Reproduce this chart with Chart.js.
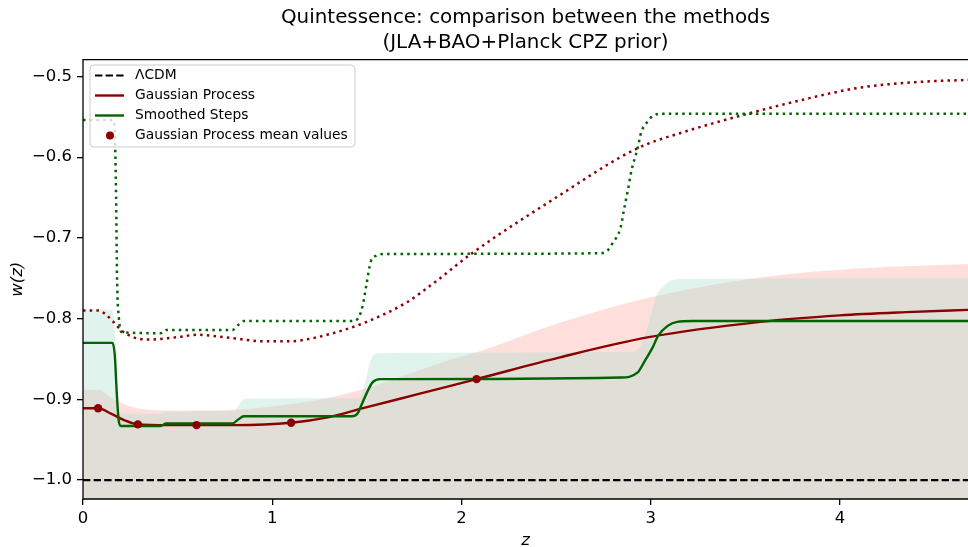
<!DOCTYPE html>
<html lang="en">
<head>
  <meta charset="UTF-8">
  <title>Quintessence: comparison between the methods</title>
  <script src="https://cdn.jsdelivr.net/npm/chart.js"></script>
  <style>
    html, body {
      margin: 0;
      padding: 0;
      background: #fff;
    }
    canvas {
      display: block;
    }
  </style>
</head>
<body>
  <canvas id="wzChart" width="968" height="547"></canvas>

  <script>
    // values (z, w(z))
    const lcdmZ = [0, 4.7];
    const lcdmW = [-1, -1];

    const gpZ = [0, 0.08, 0.15, 0.22, 0.29, 0.45, 0.6, 0.8, 1.1, 1.3, 1.48, 1.78, 2.08, 2.52, 2.99, 3.58, 4.0, 4.35, 4.7];
    const gpW = [-0.911, -0.911, -0.918, -0.926, -0.931, -0.932, -0.932, -0.932, -0.929, -0.922, -0.911, -0.893, -0.875, -0.848, -0.823, -0.804, -0.796, -0.792, -0.789];

    const meanZ = [0.08, 0.29, 0.6, 1.1, 2.08];
    const meanW = [-0.911, -0.931, -0.932, -0.929, -0.875];

    const ssZ = [0, 0.155, 0.168, 0.178, 0.188, 0.2, 0.41, 0.44, 0.79, 0.82, 0.85, 1.42, 1.45, 1.47, 1.5, 1.53, 1.57, 1.62, 2.84, 2.93, 2.97, 3.01, 3.04, 3.09, 3.14, 3.22, 4.7];
    const ssW = [-0.830, -0.830, -0.845, -0.89, -0.925, -0.933, -0.933, -0.930, -0.930, -0.925, -0.921, -0.921, -0.918, -0.908, -0.892, -0.879, -0.875, -0.875, -0.873, -0.867, -0.852, -0.836, -0.821, -0.809, -0.804, -0.803, -0.803];

    // dotted curves
    const gpDotZ = [0, 0.08, 0.11, 0.16, 0.205, 0.266, 0.34, 0.5, 0.6, 0.78, 0.95, 1.1, 1.2, 1.29, 1.38, 1.5, 1.71, 1.87, 2.05, 2.5, 2.93, 3.2, 3.5, 3.8, 4.1, 4.4, 4.7];
    const gpDotW = [-0.790, -0.790, -0.793, -0.804, -0.815, -0.823, -0.826, -0.823, -0.820, -0.824, -0.828, -0.828, -0.825, -0.820, -0.814, -0.804, -0.780, -0.753, -0.720, -0.650, -0.589, -0.567, -0.547, -0.529, -0.514, -0.507, -0.504];

    const ssDotZ = [0, 0.16, 0.168, 0.175, 0.18, 0.19, 0.205, 0.41, 0.44, 0.79, 0.82, 0.85, 1.43, 1.46, 1.48, 1.5, 1.52, 1.55, 1.6, 2.73, 2.77, 2.8, 2.84, 2.86, 2.88, 2.9, 2.93, 2.95, 2.98, 3.01, 3.06, 4.7];
    const ssDotW = [-0.554, -0.554, -0.57, -0.65, -0.75, -0.80, -0.817, -0.818, -0.814, -0.814, -0.808, -0.803, -0.803, -0.797, -0.782, -0.755, -0.73, -0.722, -0.720, -0.719, -0.716, -0.706, -0.688, -0.664, -0.640, -0.615, -0.590, -0.569, -0.557, -0.549, -0.546, -0.546];

    // upper edges of the shaded bands (they run off the bottom)
    const gpBandZ = [0, 0.08, 0.15, 0.25, 0.35, 0.5, 0.8, 1.0, 1.3, 1.5, 1.94, 2.1, 2.52, 3.03, 3.58, 4.1, 4.7];
    const gpBandW = [-0.888, -0.888, -0.898, -0.909, -0.913, -0.914, -0.913, -0.909, -0.898, -0.886, -0.851, -0.840, -0.805, -0.772, -0.749, -0.738, -0.732];

    const ssBandZ = [0, 0.15, 0.165, 0.175, 0.19, 0.21, 0.41, 0.44, 0.8, 0.83, 0.86, 1.46, 1.49, 1.52, 1.56, 2.9, 2.95, 2.99, 3.03, 3.08, 3.15, 4.7];
    const ssBandW = [-0.789, -0.789, -0.80, -0.87, -0.912, -0.918, -0.918, -0.915, -0.914, -0.905, -0.899, -0.898, -0.88, -0.852, -0.843, -0.841, -0.832, -0.805, -0.772, -0.757, -0.751, -0.750];

    const xTicks = [0, 1, 2, 3, 4];
    const yTicks = [-1.0, -0.9, -0.8, -0.7, -0.6, -0.5];

    const darkRed = '#8b0000';
    const darkGreen = '#006400';
    const font = 'DejaVu Sans';

    function pts(zs, ws) {
      return zs.map((z, i) => ({ x: z, y: ws[i] }));
    }

    const legendItems = [
      { label: 'ΛCDM', kind: 'dash', color: '#000' },
      { label: 'Gaussian Process', kind: 'line', color: darkRed },
      { label: 'Smoothed Steps', kind: 'line', color: darkGreen },
      { label: 'Gaussian Process mean values', kind: 'dot', color: darkRed }
    ];

    // axes frame + legend box, drawn on top like matplotlib does
    const framePlugin = {
      id: 'frame',
      afterDatasetsDraw(chart) {
        const { ctx, chartArea: a } = chart;
        ctx.save();
        ctx.strokeStyle = '#000';
        ctx.lineWidth = 1.3;
        ctx.beginPath();
        ctx.moveTo(a.right + 2, a.top);
        ctx.lineTo(a.left, a.top);
        ctx.lineTo(a.left, a.bottom);
        ctx.lineTo(a.right + 2, a.bottom);
        ctx.stroke();

        // legend
        const bx = 90, by = 65, bw = 265, bh = 82, r = 4;
        ctx.beginPath();
        ctx.moveTo(bx + r, by);
        ctx.arcTo(bx + bw, by, bx + bw, by + bh, r);
        ctx.arcTo(bx + bw, by + bh, bx, by + bh, r);
        ctx.arcTo(bx, by + bh, bx, by, r);
        ctx.arcTo(bx, by, bx + bw, by, r);
        ctx.closePath();
        ctx.fillStyle = 'rgba(255,255,255,0.8)';
        ctx.fill();
        ctx.strokeStyle = '#cccccc';
        ctx.lineWidth = 1;
        ctx.stroke();

        ctx.font = '13.8px "' + font + '"';
        ctx.textBaseline = 'middle';
        legendItems.forEach((it, i) => {
          const y = 75.5 + i * 20;
          ctx.strokeStyle = it.color;
          ctx.fillStyle = it.color;
          if (it.kind === 'dot') {
            ctx.beginPath();
            ctx.arc(110, y, 4, 0, Math.PI * 2);
            ctx.fill();
          } else {
            ctx.lineWidth = it.kind === 'dash' ? 2.2 : 2.4;
            ctx.setLineDash(it.kind === 'dash' ? [7.4, 3.2] : []);
            ctx.beginPath();
            ctx.moveTo(95, y);
            ctx.lineTo(124, y);
            ctx.stroke();
            ctx.setLineDash([]);
          }
          ctx.fillStyle = '#000';
          ctx.fillText(it.label, 135, y);
        });
        ctx.restore();
      }
    };

    const lineBase = {
      pointRadius: 0,
      cubicInterpolationMode: 'monotone',
      fill: false
    };

    const ctx = document.getElementById('wzChart').getContext('2d');

    new Chart(ctx, {
      type: 'line',
      data: {
        datasets: [
          {
            ...lineBase,
            label: 'GP band',
            data: pts(gpBandZ, gpBandW),
            borderWidth: 0,
            borderColor: 'rgba(0,0,0,0)',
            backgroundColor: 'rgba(250,128,114,0.25)',
            fill: 'start',
            order: 10
          },
          {
            ...lineBase,
            label: 'Steps band',
            data: pts(ssBandZ, ssBandW),
            borderWidth: 0,
            borderColor: 'rgba(0,0,0,0)',
            backgroundColor: 'rgba(172,223,207,0.375)',
            fill: 'start',
            order: 9
          },
          {
            ...lineBase,
            label: 'ΛCDM',
            data: pts(lcdmZ, lcdmW),
            borderColor: '#000',
            borderWidth: 2.2,
            borderDash: [7.4, 3.2],
            order: 5
          },
          {
            ...lineBase,
            label: 'GP dotted',
            data: pts(gpDotZ, gpDotW),
            borderColor: darkRed,
            borderWidth: 2.5,
            borderDash: [2.5, 4.2],
            order: 4
          },
          {
            ...lineBase,
            label: 'Steps dotted',
            data: pts(ssDotZ, ssDotW),
            borderColor: darkGreen,
            borderWidth: 2.5,
            borderDash: [2.5, 4.2],
            order: 3
          },
          {
            ...lineBase,
            label: 'Gaussian Process',
            data: pts(gpZ, gpW),
            borderColor: darkRed,
            borderWidth: 2.4,
            order: 2
          },
          {
            ...lineBase,
            label: 'Smoothed Steps',
            data: pts(ssZ, ssW),
            borderColor: darkGreen,
            borderWidth: 2.4,
            order: 1
          },
          {
            label: 'Gaussian Process mean values',
            data: pts(meanZ, meanW),
            showLine: false,
            pointRadius: 4.2,
            pointBackgroundColor: darkRed,
            pointBorderWidth: 0,
            borderColor: darkRed,
            order: 0
          }
        ]
      },
      options: {
        responsive: false,
        animation: false,
        layout: { padding: 0, autoPadding: false },
        plugins: {
          legend: { display: false },
          tooltip: { enabled: false },
          title: {
            display: true,
            fullSize: false,
            text: ['Quintessence: comparison between the methods', '(JLA+BAO+Planck CPZ prior)'],
            color: '#000',
            font: { family: font, size: 19.9, weight: 'normal', lineHeight: 1.22 },
            padding: { top: 6, bottom: 5 }
          }
        },
        scales: {
          x: {
            type: 'linear',
            min: 0,
            max: 4.677,
            afterFit: s => { s.height = 48; s.paddingLeft = 0; s.paddingRight = 0; },
            afterBuildTicks: s => { s.ticks = xTicks.map(v => ({ value: v })); },
            ticks: {
              includeBounds: false,
              padding: 4,
              color: '#000',
              font: { family: font, size: 16.5 },
              maxRotation: 0,
              callback: v => String(v)
            },
            grid: {
              drawOnChartArea: false,
              drawTicks: true,
              tickLength: 6,
              color: '#000',
              lineWidth: 1.3
            },
            border: { display: false },
            title: {
              display: true,
              text: 'z',
              color: '#000',
              font: { family: font, size: 16.5, style: 'italic', lineHeight: 1 },
              padding: { top: 0, bottom: -1.5 }
            }
          },
          y: {
            type: 'linear',
            min: -1.0235,
            max: -0.479,
            afterFit: s => { s.width = 83; },
            afterBuildTicks: s => { s.ticks = yTicks.map(v => ({ value: v })); },
            ticks: {
              includeBounds: false,
              padding: 5,
              color: '#000',
              font: { family: font, size: 16.5 },
              callback: v => v.toFixed(1).replace('-', '\u2212')
            },
            grid: {
              drawOnChartArea: false,
              drawTicks: true,
              tickLength: 6,
              color: '#000',
              lineWidth: 1.3
            },
            border: { display: false },
            title: {
              display: true,
              text: 'w(z)',
              color: '#000',
              font: { family: font, size: 16.5, style: 'italic', lineHeight: 1 },
              padding: { top: 9, bottom: 0 }
            }
          }
        }
      },
      plugins: [framePlugin]
    });
  </script>
</body>
</html>
